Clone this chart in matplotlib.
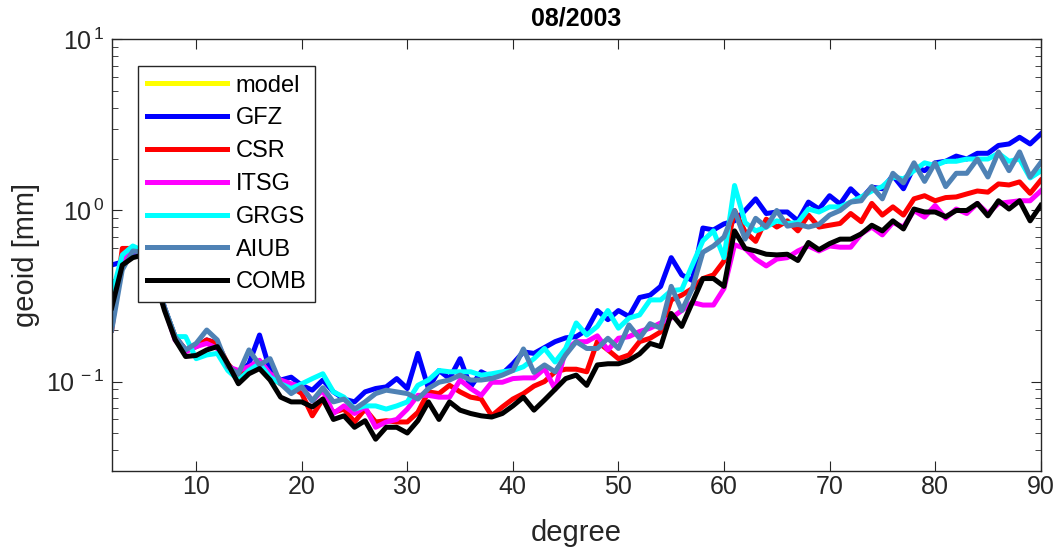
import numpy as np
import matplotlib
matplotlib.use('Agg')
import matplotlib.pyplot as plt
from matplotlib.ticker import LogLocator, FuncFormatter, NullFormatter

plt.rcParams['font.family'] = ['Liberation Sans', 'DejaVu Sans']
plt.rcParams['mathtext.fontset'] = 'custom'
plt.rcParams['mathtext.rm'] = 'Liberation Sans'

# degree-wise geoid amplitudes [mm], degrees 2..90
degrees = np.arange(2, 91)

model = []  # model curve is not visible for this month

gfz = [0.48, 0.5, 0.57, 0.57, 0.42, 0.27, 0.183, 0.153, 0.16, 0.175,
       0.167, 0.125, 0.111, 0.127, 0.187, 0.116, 0.102, 0.106, 0.095, 0.089,
       0.102, 0.087, 0.079, 0.076, 0.087, 0.091, 0.093, 0.104, 0.091, 0.146,
       0.091, 0.116, 0.104, 0.136, 0.093, 0.114, 0.106, 0.111, 0.127, 0.149,
       0.146, 0.158, 0.171, 0.18, 0.183, 0.2, 0.26, 0.23, 0.26, 0.24,
       0.31, 0.32, 0.36, 0.53, 0.42, 0.39, 0.79, 0.77, 0.835, 0.87,
       1.0, 1.17, 0.96, 0.98, 0.98, 0.87, 1.12, 1.02, 1.22, 1.09,
       1.34, 1.17, 1.37, 1.34, 1.6, 1.34, 1.8, 1.71, 1.9, 1.94,
       2.08, 2.0, 2.16, 2.16, 2.4, 2.45, 2.68, 2.45, 2.8]

csr = [0.2, 0.6, 0.6, 0.57, 0.42, 0.27, 0.183, 0.153, 0.16, 0.175,
       0.167, 0.127, 0.106, 0.119, 0.127, 0.106, 0.097, 0.093, 0.085, 0.063,
       0.079, 0.066, 0.069, 0.058, 0.069, 0.058, 0.059, 0.058, 0.058, 0.066,
       0.087, 0.085, 0.095, 0.087, 0.081, 0.079, 0.063, 0.071, 0.079, 0.085,
       0.094, 0.1, 0.114, 0.118, 0.118, 0.114, 0.171, 0.153, 0.136, 0.143,
       0.171, 0.179, 0.195, 0.30, 0.32, 0.35, 0.40, 0.42, 0.507, 1.0,
       0.75, 0.66, 0.89, 0.8, 0.87, 0.76, 0.94, 0.8, 0.82, 0.84,
       0.96, 0.86, 1.1, 0.94, 1.05, 0.94, 1.17, 1.22, 1.14, 1.19,
       1.2, 1.25, 1.3, 1.28, 1.43, 1.41, 1.47, 1.26, 1.5]

itsg = [0.24, 0.5, 0.58, 0.57, 0.42, 0.27, 0.175, 0.149, 0.16, 0.167,
        0.156, 0.122, 0.116, 0.122, 0.133, 0.111, 0.102, 0.097, 0.093, 0.077,
        0.089, 0.065, 0.072, 0.065, 0.071, 0.054, 0.058, 0.06, 0.069, 0.083,
        0.083, 0.081, 0.081, 0.102, 0.091, 0.083, 0.099, 0.099, 0.104, 0.105,
        0.105, 0.119, 0.09, 0.153, 0.171, 0.171, 0.185, 0.153, 0.179, 0.183,
        0.196, 0.205, 0.22, 0.235, 0.26, 0.29, 0.28, 0.28, 0.35, 0.63,
        0.6, 0.52, 0.474, 0.52, 0.53, 0.58, 0.62, 0.58, 0.62, 0.61,
        0.61, 0.73, 0.8, 0.72, 0.85, 0.8, 1.0, 0.915, 1.07, 0.9,
        1.02, 0.96, 1.1, 0.96, 1.1, 1.12, 1.14, 1.14, 1.3]

grgs = [0.32, 0.55, 0.62, 0.58, 0.42, 0.27, 0.183, 0.183, 0.136, 0.143,
        0.146, 0.116, 0.102, 0.116, 0.127, 0.106, 0.097, 0.091, 0.097, 0.104,
        0.111, 0.087, 0.081, 0.069, 0.072, 0.072, 0.069, 0.072, 0.076, 0.095,
        0.102, 0.116, 0.114, 0.114, 0.114, 0.109, 0.111, 0.114, 0.116, 0.122,
        0.136, 0.156, 0.13, 0.156, 0.22, 0.187, 0.21, 0.26, 0.205, 0.235,
        0.245, 0.30, 0.30, 0.34, 0.345, 0.48, 0.665, 0.76, 0.53, 1.4,
        0.85, 0.76, 0.8, 0.87, 0.84, 0.85, 1.02, 0.98, 1.05, 1.05,
        1.12, 1.2, 1.3, 1.38, 1.57, 1.53, 1.71, 1.9, 1.83, 1.94,
        1.94, 2.0, 2.0, 2.0, 2.16, 1.94, 2.0, 1.55, 1.7]

aiub = [0.2, 0.45, 0.58, 0.57, 0.42, 0.27, 0.183, 0.153, 0.167, 0.2,
        0.175, 0.122, 0.111, 0.153, 0.125, 0.136, 0.097, 0.085, 0.093, 0.077,
        0.092, 0.076, 0.079, 0.069, 0.076, 0.085, 0.089, 0.087, 0.085, 0.079,
        0.091, 0.099, 0.102, 0.109, 0.102, 0.102, 0.104, 0.109, 0.116, 0.155,
        0.113, 0.125, 0.114, 0.143, 0.171, 0.156, 0.156, 0.179, 0.156, 0.214,
        0.179, 0.218, 0.205, 0.36, 0.26, 0.35, 0.57, 0.62, 0.7, 1.0,
        0.68, 0.9, 0.8, 1.0, 0.81, 0.83, 0.8, 0.83, 0.94, 1.0,
        1.12, 1.14, 1.38, 1.17, 1.65, 1.45, 1.9, 1.48, 1.9, 1.38,
        1.65, 1.65, 2.0, 1.57, 2.2, 1.71, 2.2, 1.57, 1.9]

comb = [0.27, 0.48, 0.53, 0.55, 0.42, 0.26, 0.176, 0.14, 0.142, 0.153,
        0.16, 0.127, 0.097, 0.111, 0.119, 0.102, 0.081, 0.076, 0.076, 0.071,
        0.079, 0.06, 0.063, 0.054, 0.059, 0.046, 0.054, 0.054, 0.05, 0.059,
        0.076, 0.06, 0.076, 0.068, 0.065, 0.063, 0.062, 0.065, 0.072, 0.081,
        0.068, 0.078, 0.09, 0.104, 0.109, 0.095, 0.125, 0.127, 0.127, 0.133,
        0.145, 0.167, 0.16, 0.25, 0.21, 0.29, 0.40, 0.40, 0.36, 0.76,
        0.60, 0.58, 0.555, 0.55, 0.555, 0.51, 0.65, 0.59, 0.64, 0.68,
        0.68, 0.73, 0.82, 0.76, 0.87, 0.78, 1.02, 0.98, 0.98, 0.92,
        1.0, 1.0, 1.1, 0.93, 1.14, 1.02, 1.14, 0.87, 1.07]

fig = plt.figure(figsize=(10.56, 5.56), dpi=100)
ax = fig.add_axes([0.1058, 0.153, 0.8797, 0.776])

lw = 3.6
ax.plot(degrees[:len(model)], model, color=(1, 1, 0), lw=lw, label='model')
ax.plot(degrees, gfz, color=(0, 0, 1), lw=lw, label='GFZ')
ax.plot(degrees, csr, color=(1, 0, 0), lw=lw, label='CSR')
ax.plot(degrees, itsg, color=(1, 0, 1), lw=lw, label='ITSG')
ax.plot(degrees, grgs, color=(0, 1, 1), lw=lw, label='GRGS')
ax.plot(degrees, aiub, color=(0.31, 0.51, 0.71), lw=lw, label='AIUB')
ax.plot(degrees, comb, color=(0, 0, 0), lw=lw, label='COMB')

ax.set_yscale('log')
ax.set_xlim(2, 90)
ax.set_ylim(0.03, 10)
ax.set_xticks(range(10, 91, 10))
ax.yaxis.set_major_locator(LogLocator(base=10, numticks=10))
ax.yaxis.set_minor_locator(LogLocator(base=10, subs=np.arange(2, 10), numticks=20))
ax.yaxis.set_major_formatter(FuncFormatter(lambda v, p: r'$\mathregular{10^{\,%d}}$' % round(np.log10(v))))
ax.yaxis.set_minor_formatter(NullFormatter())

axcol = '#262626'
for s in ax.spines.values():
    s.set_color(axcol)
    s.set_linewidth(1.0)
ax.tick_params(which='both', direction='in', top=True, right=True, colors=axcol,
               labelsize=18)
ax.tick_params(which='major', length=7)
ax.tick_params(which='minor', length=4)
ax.tick_params(axis='x', pad=3)
ax.tick_params(axis='y', pad=5)

ax.set_xlabel('degree', fontsize=21, color=axcol, labelpad=14)
ax.set_ylabel('geoid [mm]', fontsize=21, color=axcol, labelpad=4)
ax.set_title('08/2003', fontsize=18, fontweight='bold', color='black', pad=10)

leg = ax.legend(loc='upper left', bbox_to_anchor=(0.0283, 0.938), borderaxespad=0,
                fontsize=17, handlelength=3.4, handletextpad=0.38, borderpad=0.36,
                labelspacing=0.456, fancybox=False, framealpha=1, edgecolor=axcol)
leg.get_frame().set_linewidth(1.0)
for t in leg.get_texts():
    t.set_color('black')

fig.savefig('out.png', dpi=100)
